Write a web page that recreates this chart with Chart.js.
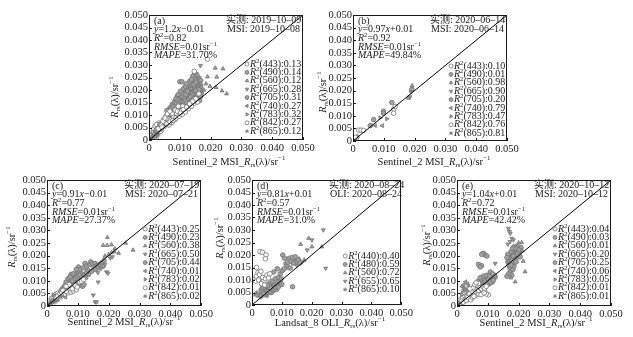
<!DOCTYPE html>
<html>
<head>
<meta charset="utf-8">
<script src="https://cdn.jsdelivr.net/npm/chart.js@4/dist/chart.umd.min.js"></script>
<style>
  html, body { margin: 0; padding: 0; background: #fff; width: 633px; height: 337px; overflow: hidden; }
  canvas { position: absolute; }
</style>
</head>
<body>
<canvas id="pa"></canvas>
<canvas id="pb"></canvas>
<canvas id="pc"></canvas>
<canvas id="pd"></canvas>
<canvas id="pe"></canvas>
<script>
// ---------- axes ----------
const xTickValues = [0, 0.01, 0.02, 0.03, 0.04, 0.05];
const xTickLabels = ['0', '0.010', '0.020', '0.030', '0.040', '0.050'];
const yTickValues = [0, 0.005, 0.01, 0.015, 0.02, 0.025, 0.03, 0.035, 0.04, 0.045, 0.05];
const yTickLabels = ['0', '0.005', '0.010', '0.015', '0.020', '0.025', '0.030', '0.035', '0.040', '0.045', '0.050'];
const oneToOne = [0, 0.05];

// ---------- bands ----------
const bandsMSI = [443, 490, 560, 665, 705, 740, 783, 842, 865];
const bandsOLI = [440, 480, 560, 655, 865];

// ---------- (a) 2019-10-09, Sentinel-2 MSI ----------
const a443 = [[0.004,0.006],[0.005,0.007],[0.006,0.0085],[0.0055,0.0095],[0.007,0.008],[0.0075,0.0105],[0.008,0.009],[0.0085,0.012],[0.009,0.0105],[0.0095,0.0135],[0.0065,0.006],[0.0075,0.007],[0.0085,0.0082],[0.0105,0.0118],[0.011,0.0135],[0.0045,0.0075],[0.0052,0.0088],[0.006,0.0105],[0.0068,0.0115],[0.019,0.0323],[0.0147,0.0275],
  [0.003,0.0045],[0.0042,0.0052],[0.0058,0.0065],[0.0068,0.0072],[0.0078,0.0078],[0.0088,0.0088],[0.0098,0.0095],[0.0108,0.0102],[0.0118,0.0112],[0.0128,0.0125],[0.0138,0.0135],[0.0148,0.0148],[0.0158,0.0152],[0.0092,0.0115],[0.0102,0.0108],[0.0112,0.0122],[0.0122,0.0132],[0.0132,0.0145],[0.0142,0.0155],[0.0152,0.0165],[0.0162,0.0185]];
const a490 = [[0.005,0.008],[0.006,0.0095],[0.007,0.0125],[0.0078,0.0135],[0.0088,0.0145],[0.0095,0.016],[0.0102,0.0152],[0.0108,0.0172],[0.0115,0.0165],[0.012,0.0182],[0.0125,0.0195],[0.0072,0.0095],[0.0082,0.0112],[0.0092,0.0125],[0.0098,0.0142],[0.0105,0.0128],[0.0112,0.015],[0.0118,0.0138],[0.0065,0.0108],[0.0058,0.0118],
  [0.0035,0.0062],[0.0045,0.0068],[0.0055,0.0078],[0.0062,0.0088],[0.0072,0.0102],[0.0082,0.0098],[0.0088,0.0132],[0.0095,0.0118],[0.0105,0.0138],[0.0112,0.0118],[0.0118,0.0158],[0.0122,0.0148],[0.0128,0.0138],[0.0135,0.0172],[0.0138,0.0152],[0.0145,0.0165],[0.0152,0.0198],[0.0158,0.0182],[0.0162,0.0202],[0.0168,0.0175]];
const a560 = [[0.0215,0.0288],[0.024,0.0285],[0.019,0.0253],[0.022,0.0252],[0.0218,0.021],[0.0237,0.0197],[0.0252,0.0185],[0.0185,0.0225],[0.0178,0.02],[0.0198,0.0215],[0.0168,0.0225]];
const a665 = [[0.0167,0.0297],[0.0158,0.0248],[0.0138,0.0205],[0.0125,0.0178],[0.0112,0.0162],[0.0145,0.0195],[0.0152,0.0178],[0.016,0.0212],[0.0172,0.0198],[0.0098,0.0118]];
const a705 = [[0.0115,0.019],[0.012,0.0205],[0.0128,0.0175],[0.013,0.0215],[0.0135,0.019],[0.0138,0.0225],[0.014,0.02],[0.0142,0.0168],[0.0145,0.0235],[0.0148,0.021],[0.015,0.0185],[0.0152,0.0245],[0.0155,0.0222],[0.0158,0.0195],[0.016,0.0172],[0.0162,0.023],[0.0165,0.0205],[0.0168,0.0215],[0.0132,0.0158],[0.0125,0.0162],[0.0108,0.0185],[0.0142,0.0255],[0.0155,0.0262],[0.0148,0.027],[0.01,0.0233],[0.0107,0.0233],[0.0085,0.0158],[0.0092,0.0175],[0.017,0.0188],[0.0165,0.0158],
  [0.0068,0.0128],[0.0075,0.0142],[0.0082,0.0148],[0.0088,0.0165],[0.0095,0.0182],[0.0102,0.0195],[0.0105,0.0168],[0.0112,0.0205],[0.0118,0.0215],[0.0122,0.0225],[0.0128,0.0192],[0.0132,0.0235],[0.0135,0.0205],[0.0138,0.0242],[0.0145,0.0222],[0.0152,0.0232],[0.0158,0.0215],[0.0162,0.0248],[0.0165,0.0225],[0.0168,0.0238]];
const a740 = [[0.0008,0.0012],[0.0016,0.0026],[0.0026,0.0032],[0.0036,0.0042],[0.0044,0.0055],[0.0024,0.0046],[0.0052,0.0068]];
const a783 = [[0.0012,0.0018],[0.0022,0.0028],[0.0028,0.0038],[0.0032,0.0048],[0.0042,0.005],[0.0018,0.0032],[0.0048,0.0062]];
const a842 = [[0.001,0.002],[0.002,0.003],[0.003,0.004],[0.0025,0.005],[0.0035,0.0055],[0.004,0.0045],[0.0015,0.0045],[0.003,0.006],[0.0045,0.0058],[0.002,0.0055],[0.0038,0.0035],
  [0.0025,0.0038],[0.0035,0.0045],[0.005,0.0055],[0.0055,0.0065],[0.004,0.0065],[0.0048,0.0082],[0.0032,0.0068],[0.0025,0.0062],[0.0058,0.0072],[0.0015,0.003]];
const a865 = [[0.0005,0.0008],[0.001,0.0015],[0.0015,0.001],[0.002,0.0022],[0.0008,0.0025],[0.0025,0.0012],[0.0012,0.0035],[0.003,0.002],[0.0018,0.0042],[0.0035,0.003],
  [0.0005,0.002],[0.0022,0.0035],[0.0028,0.0028],[0.0038,0.0048],[0.0042,0.004]];
const r2A = ['0.13', '0.14', '0.12', '0.28', '0.31', '0.27', '0.32', '0.27', '0.12'];

// ---------- (b) 2020-06-14, Sentinel-2 MSI ----------
const b443 = [[0.0018,0.0043],[0.0026,0.0043],[0.0034,0.0042],[0.0008,0.0015]];
const b490 = [[0.0056,0.0061],[0.0067,0.0085],[0.0005,0.001]];
const b560 = [[0.0192,0.0219],[0.018,0.017]];
const b665 = [[0.0185,0.0175],[0.0188,0.0195]];
const b705 = [[0.0099,0.0118],[0.0099,0.011],[0.0126,0.0153],[0.0191,0.0205]];
const b740 = [[0.0072,0.0061],[0.0095,0.0061]];
const b783 = [[0.0088,0.0092],[0.011,0.0088]];
const b842 = [[0.0132,0.0126],[0.0132,0.011],[0.0137,0.0137],[0.0012,0.0012]];
const b865 = [[0.0003,0.0005],[0.001,0.0008],[0.0015,0.002]];
const r2B = ['0.10', '0.01', '0.98', '0.90', '0.20', '0.79', '0.47', '0.76', '0.81'];

// ---------- (c) 2020-07-19, Sentinel-2 MSI ----------
const c443 = [[0.005,0.0055],[0.0055,0.006],[0.006,0.0068],[0.0065,0.0062],[0.007,0.0075],[0.0075,0.0065],[0.008,0.0078],[0.0058,0.0048],[0.0068,0.0052],[0.0078,0.0055],[0.0085,0.006],[0.009,0.0072],[0.0095,0.0065],[0.0072,0.0085],[0.0062,0.0078],
  [0.003,0.0035],[0.0035,0.004],[0.0042,0.0048],[0.0048,0.0052],[0.0052,0.0062],[0.0062,0.0058],[0.0082,0.0068],[0.0092,0.0082],[0.0098,0.0075],[0.0105,0.0095],[0.0112,0.0098],[0.0118,0.0105]];
const c490 = [[0.005,0.0068],[0.0055,0.0075],[0.006,0.0085],[0.0065,0.0092],[0.007,0.0098],[0.0075,0.0105],[0.008,0.0112],[0.0085,0.0095],[0.009,0.0102],[0.0095,0.0088],[0.01,0.0095],[0.0105,0.0082],[0.011,0.009],[0.0115,0.0078],[0.012,0.0085],[0.0088,0.0118],[0.0078,0.0125],[0.0068,0.0108],
  [0.0045,0.006],[0.0058,0.0072],[0.0072,0.0088],[0.0082,0.0102],[0.0092,0.011],[0.0098,0.0118],[0.0105,0.0122],[0.0112,0.0112],[0.0122,0.0125],[0.0128,0.0132],[0.0062,0.0095],[0.0075,0.0115],[0.0085,0.0128],[0.0095,0.0145]];
const c560 = [[0.0196,0.0272],[0.0182,0.0241],[0.0195,0.0241],[0.0209,0.0243],[0.0279,0.0222],[0.022,0.0228],[0.0218,0.0216],[0.021,0.0212],[0.02,0.0205],[0.0188,0.0198],[0.0255,0.025],[0.0232,0.021]];
const c665 = [[0.0193,0.0135],[0.0198,0.013],[0.0166,0.0095],[0.015,0.0043],[0.0156,0.0016],[0.0161,0.0016],[0.0175,0.0148],[0.0188,0.0165],[0.0205,0.019],[0.0212,0.0195],[0.0165,0.0132]];
const c705 = [[0.0095,0.0128],[0.01,0.0138],[0.0102,0.0155],[0.0108,0.0145],[0.0112,0.0128],[0.0118,0.0152],[0.0123,0.0169],[0.0128,0.0158],[0.0132,0.0142],[0.0138,0.0165],[0.0142,0.0175],[0.0148,0.0168],[0.0156,0.0169],[0.0152,0.0155],[0.0158,0.0145],[0.0162,0.016],[0.0168,0.0152],[0.0172,0.0165],[0.0178,0.0172],[0.0182,0.0158],[0.0108,0.0118],[0.0125,0.0112],[0.0135,0.0125],[0.0145,0.0138],[0.0185,0.018]];
const c740 = [[0.0018,0.0025],[0.0028,0.0038],[0.0038,0.0045],[0.0045,0.0035],[0.0055,0.004],[0.0032,0.0032],[0.006,0.0035]];
const c783 = [[0.002,0.0045],[0.0032,0.004],[0.0038,0.0035],[0.0042,0.0038],[0.0048,0.0042],[0.0025,0.0025],[0.0052,0.0045]];
const c842 = [[0.0015,0.003],[0.002,0.0035],[0.0025,0.0042],[0.003,0.0048],[0.0035,0.005],[0.004,0.0045],[0.0045,0.005],[0.0028,0.003]];
const c865 = [[0.0005,0.0008],[0.001,0.0015],[0.0015,0.001],[0.002,0.002],[0.0025,0.0015],[0.003,0.0025],[0.0012,0.0028],[0.0035,0.0022]];
const r2C = ['0.25', '0.23', '0.38', '0.50', '0.44', '0.01', '0.02', '0.01', '0.02'];

// ---------- (d) 2020-08-24, Landsat-8 OLI ----------
const d440 = [[0.0027,0.0213],[0.0035,0.0211],[0.0047,0.02],[0.0045,0.0185],[0.001,0.0105],[0.0015,0.0115],[0.002,0.013],[0.0025,0.0122],[0.003,0.0135],[0.0012,0.0095],[0.0022,0.01],[0.0035,0.011],[0.0015,0.015],[0.004,0.0095],[0.0045,0.0105],[0.005,0.012],[0.0055,0.0108],[0.006,0.0125],[0.0032,0.0085],[0.0042,0.008]];
const d480 = [[0.003,0.006],[0.0035,0.0068],[0.004,0.0055],[0.0045,0.0065],[0.005,0.006],[0.0055,0.007],[0.006,0.0062],[0.0065,0.0075],[0.007,0.0068],[0.0075,0.008],[0.008,0.007],[0.0085,0.0085],[0.009,0.0078],[0.0095,0.009],[0.01,0.0082],[0.0058,0.0085],[0.0068,0.0095],[0.0078,0.0105],[0.0088,0.011],[0.0095,0.0125],[0.0102,0.0138],[0.0065,0.005],[0.0072,0.0058],[0.0082,0.0062],[0.0048,0.0075],[0.0136,0.0073],[0.0085,0.0145],[0.0073,0.0132],[0.0103,0.02],[0.0109,0.0187],[0.0125,0.0187],[0.0114,0.0165],[0.012,0.017],[0.013,0.0175],[0.0135,0.019],[0.014,0.0168],[0.0145,0.0193],[0.015,0.0175],[0.0155,0.018],[0.016,0.0168],[0.0118,0.0152],[0.0128,0.0148],[0.0108,0.0145],
  [0.004,0.0045],[0.0052,0.0052],[0.006,0.0055],[0.007,0.0062],[0.0078,0.0072],[0.0088,0.0072],[0.0092,0.0095],[0.0098,0.0105],[0.0062,0.0068],[0.0052,0.0078]];
const d560 = [[0.0163,0.0243],[0.019,0.0267],[0.0201,0.0233],[0.0234,0.0233],[0.0175,0.018],[0.0158,0.0185],[0.0145,0.0178],[0.0138,0.0165]];
const d655 = [[0.0239,0.03],[0.0201,0.026],[0.0185,0.022],[0.0247,0.0147],[0.0168,0.0172],[0.015,0.0158]];
const d865 = [[0.001,0.004],[0.0015,0.005],[0.002,0.0035],[0.0025,0.0045],[0.003,0.003],[0.0035,0.0042],[0.004,0.0038],[0.0045,0.0048],[0.005,0.0035],[0.0055,0.0045]];
const r2D = ['0.40', '0.59', '0.72', '0.65', '0.10'];

// ---------- (e) 2020-10-12, Sentinel-2 MSI ----------
const e443 = [[0.004,0.003],[0.0045,0.0038],[0.005,0.0045],[0.0055,0.005],[0.006,0.0042],[0.0065,0.0055],[0.007,0.0048],[0.0075,0.006],[0.008,0.0052],[0.0085,0.0065],[0.009,0.0058],[0.0102,0.0044],[0.0095,0.0048],[0.0055,0.0068],[0.006,0.0075],[0.0065,0.0082],[0.007,0.009],[0.0048,0.0058],
  [0.003,0.0022],[0.0035,0.0035],[0.004,0.0048],[0.0045,0.0025],[0.005,0.0035],[0.0055,0.0038],[0.006,0.0058],[0.0065,0.0065],[0.007,0.0062],[0.0075,0.0072],[0.008,0.0068],[0.0085,0.0075],[0.009,0.007],[0.0095,0.0078],[0.0052,0.0072],[0.0058,0.0085],[0.0062,0.0092],[0.0042,0.0068],[0.0078,0.0045],[0.0088,0.0052]];
const e490 = [[0.0075,0.0078],[0.008,0.0088],[0.0085,0.0095],[0.009,0.0082],[0.0095,0.009],[0.01,0.0098],[0.0105,0.0088],[0.011,0.0102],[0.0115,0.0095],[0.012,0.011],[0.0124,0.0115],[0.0078,0.0105],[0.0088,0.011],[0.0098,0.0112],[0.0068,0.0098],[0.0086,0.0209],[0.0092,0.0202],[0.008,0.0205],[0.0097,0.0198],[0.007,0.0165],[0.008,0.016],[0.0075,0.0155],[0.0108,0.0135],
  [0.0072,0.0088],[0.0082,0.0078],[0.0092,0.0095],[0.0098,0.0085],[0.0102,0.0105],[0.0108,0.0095],[0.0112,0.0112],[0.0118,0.0102],[0.0122,0.0122],[0.0085,0.0118],[0.0095,0.0122],[0.0105,0.0118],[0.0115,0.0128],[0.0075,0.0112]];
const e560 = [[0.02,0.0251],[0.021,0.0252],[0.0221,0.0136],[0.0189,0.0096],[0.0215,0.0178],[0.0212,0.022],[0.0175,0.0112]];
const e665 = [[0.0124,0.0169],[0.0167,0.0308],[0.017,0.0295],[0.0173,0.0288],[0.0178,0.0268],[0.0183,0.0262],[0.0172,0.0255],[0.0165,0.0245]];
const e705 = [[0.0165,0.0175],[0.017,0.0185],[0.0172,0.02],[0.0175,0.0195],[0.0178,0.021],[0.018,0.019],[0.0182,0.0205],[0.0185,0.0215],[0.0188,0.02],[0.019,0.0222],[0.0192,0.0208],[0.0195,0.0218],[0.0198,0.0195],[0.02,0.0225],[0.0202,0.021],[0.0168,0.0162],[0.0172,0.015],[0.0178,0.0165],[0.0185,0.0172],[0.0175,0.0138],[0.0182,0.0145],[0.0168,0.0128],[0.0162,0.0118],[0.0178,0.0122],[0.0205,0.0195],[0.0208,0.0232],[0.0195,0.0238],[0.0185,0.0235],
  [0.0168,0.019],[0.0172,0.0178],[0.0175,0.0215],[0.018,0.0228],[0.0183,0.0198],[0.0188,0.0185],[0.0192,0.0228],[0.0195,0.0205],[0.0198,0.0212],[0.0202,0.0222],[0.0178,0.018],[0.0185,0.0158],[0.0165,0.0205],[0.0162,0.0192],[0.0192,0.0175],[0.0175,0.0162]];
const e740 = [[0.0016,0.0077],[0.0022,0.0085],[0.0028,0.0096],[0.0035,0.0088],[0.0038,0.0078],[0.0045,0.007],[0.005,0.0062]];
const e783 = [[0.0015,0.0045],[0.002,0.006],[0.0025,0.007],[0.003,0.0065],[0.0035,0.0058],[0.004,0.0065],[0.0045,0.0055]];
const e842 = [[0.001,0.0025],[0.0018,0.0035],[0.0025,0.004],[0.003,0.0045],[0.0035,0.005],[0.004,0.0042],[0.0022,0.0055],[0.0028,0.006],[0.0015,0.002],[0.002,0.0015],[0.0032,0.0038]];
const e865 = [[0.0005,0.0008],[0.001,0.0015],[0.0015,0.0012],[0.002,0.0025],[0.0025,0.0018],[0.003,0.003],[0.0012,0.003],[0.0035,0.0025]];
const r2E = ['0.04', '0.03', '0.01', '0.20', '0.25', '0.06', '0.05', '0.01', '0.01'];

// ---------- marker look per band ----------
const MARK = '#747474';
const FILL = '#a0a0a0';
const bandMarker = {
  440: { style: 'circle', rot: 0, hollow: true },
  443: { style: 'circle', rot: 0, hollow: true },
  480: { style: 'circle', rot: 0 },
  490: { style: 'circle', rot: 0 },
  560: { style: 'triangle', rot: 0 },
  655: { style: 'triangle', rot: 180 },
  665: { style: 'triangle', rot: 180 },
  705: { style: 'circle', rot: 0 },
  740: { style: 'triangle', rot: -90 },
  783: { style: 'triangle', rot: 90 },
  842: { style: 'circle', rot: 0, hollow: true },
  865: { style: 'star', rot: 0 }
};

const FACE = "'Liberation Serif','Noto Sans CJK SC',serif";
const FS_TICK = 10.5;
const FS = 10;
const INK = '#1a1a1a';

// ---------- panel layout (page pixels) ----------
const panels = [
  { id: 'pa', box: [95, 0, 237, 170], plot: [149, 15, 303, 140], tag: '(a)',
    fit: '*y*=1.2*x*−0.01', r2: '0.82', rmse: '0.01', mape: '31.70%',
    obs: '实测: 2019–10–09', img: 'MSI: 2019–10–08', xName: 'Sentinel_2 MSI_',
    yTitle: [115, 97], xTitle: [229, 162], bands: bandsMSI,
    series: [a443, a490, a560, a665, a705, a740, a783, a842, a865], r2s: r2A, legTop: 49 },
  { id: 'pb', box: [312, 0, 210, 170], plot: [353, 15, 507, 141], tag: '(b)',
    fit: '*y*=0.97*x*+0.01', r2: '0.92', rmse: '0.01', mape: '49.84%',
    obs: '实测: 2020–06–14', img: 'MSI: 2020–06–14', xName: 'Sentinel_2 MSI_',
    yTitle: [323, 92], xTitle: [434, 162], bands: bandsMSI,
    series: [b443, b490, b560, b665, b705, b740, b783, b842, b865], r2s: r2B, legTop: 51 },
  { id: 'pc', box: [0, 170, 215, 167], plot: [47, 180, 202, 306], tag: '(c)',
    fit: '*y*=0.91*x*−0.01', r2: '0.77', rmse: '0.01', mape: '27.37%',
    obs: '实测: 2020–07–19', img: 'MSI: 2020–07–21', xName: 'Sentinel_2 MSI_',
    yTitle: [12, 247], xTitle: [124, 322], bands: bandsMSI,
    series: [c443, c490, c560, c665, c705, c740, c783, c842, c865], r2s: r2C, legTop: 49 },
  { id: 'pd', box: [210, 170, 205, 167], plot: [252, 180, 405, 305], tag: '(d)',
    fit: '*y*=0.81*x*+0.01', r2: '0.57', rmse: '0.01', mape: '31.0%',
    obs: '实测: 2020–08–24', img: 'OLI: 2020–08–24', xName: 'Landsat_8 OLI_',
    yTitle: [220, 238], xTitle: [330, 323], bands: bandsOLI,
    series: [d440, d480, d560, d655, d865], r2s: r2D, legTop: 76 },
  { id: 'pe', box: [415, 170, 218, 167], plot: [457, 180, 611, 306], tag: '(e)',
    fit: '*y*=1.04*x*+0.01', r2: '0.72', rmse: '0.01', mape: '42.42%',
    obs: '实测: 2020–10–12', img: 'MSI: 2020–10–12', xName: 'Sentinel_2 MSI_',
    yTitle: [427, 245], xTitle: [536, 323], bands: bandsMSI,
    series: [e443, e490, e560, e665, e705, e740, e783, e842, e865], r2s: r2E, legTop: 49 }
];

// ---------- rich text: *italic*, ^{sup}, _{sub} ----------
function parseRich(s) {
  const out = []; let buf = '', ital = false, i = 0;
  const flush = () => { if (buf) { out.push({ t: buf, it: ital, m: 0 }); buf = ''; } };
  while (i < s.length) {
    const c = s[i];
    if (c === '*') { flush(); ital = !ital; i++; continue; }
    if ((c === '^' || c === '_') && s[i + 1] === '{') {
      flush();
      const j = s.indexOf('}', i);
      out.push({ t: s.slice(i + 2, j), it: false, m: c === '^' ? 1 : -1 });
      i = j + 1; continue;
    }
    buf += c; i++;
  }
  flush();
  return out;
}
function drawRich(ctx, s, x, y, align, size) {
  const parts = parseRich(s);
  const small = size * 0.66;
  const fontOf = p => (p.it ? 'italic ' : '') + (p.m ? small : size) + 'px ' + FACE;
  let w = 0;
  parts.forEach(p => { ctx.font = fontOf(p); p.w = ctx.measureText(p.t).width; w += p.w; });
  let cx = align === 'right' ? x - w : align === 'center' ? x - w / 2 : x;
  ctx.textAlign = 'left';
  ctx.textBaseline = 'middle';
  parts.forEach(p => {
    ctx.font = fontOf(p);
    const dy = p.m === 1 ? -size * 0.32 : p.m === -1 ? size * 0.28 : 0;
    ctx.fillText(p.t, cx, y + dy);
    cx += p.w;
  });
}

// ---------- frame, inward ticks, titles, notes, legend ----------
const decoPlugin = {
  id: 'deco',
  afterDraw(chart, args, opts) {
    const p = opts.panel;
    const ctx = chart.ctx;
    const ox = p.box[0], oy = p.box[1];
    const a = chart.chartArea;
    const xs = chart.scales.x, ys = chart.scales.y;
    ctx.save();
    ctx.strokeStyle = INK;
    ctx.lineWidth = 1;
    ctx.strokeRect(Math.round(a.left) + 0.5, Math.round(a.top) + 0.5,
                   Math.round(a.right - a.left) - 1, Math.round(a.bottom - a.top) - 1);
    ctx.beginPath();
    yTickValues.forEach(v => {
      const py = Math.round(ys.getPixelForValue(v)) + 0.5;
      ctx.moveTo(a.left, py); ctx.lineTo(a.left + 3, py);
    });
    xTickValues.forEach(v => {
      const px = Math.round(xs.getPixelForValue(v)) + 0.5;
      ctx.moveTo(px, a.bottom); ctx.lineTo(px, a.bottom - 3);
    });
    ctx.stroke();

    ctx.fillStyle = INK;
    // axis titles
    drawRich(ctx, p.xName + '*R*_{rs}(λ)/sr^{−1}', p.xTitle[0] - ox, p.xTitle[1] - oy, 'center', FS_TICK);
    ctx.save();
    ctx.translate(p.yTitle[0] - ox, p.yTitle[1] - oy);
    ctx.rotate(-Math.PI / 2);
    drawRich(ctx, '*R*_{rs}(λ)/sr^{−1}', 0, 0, 'center', FS_TICK);
    ctx.restore();

    // fit statistics
    const L = a.left, T = a.top, R = a.right;
    const lines = [p.tag, p.fit, '*R*^{2}=' + p.r2, '*RMSE*=' + p.rmse + 'sr^{−1}', '*MAPE*=' + p.mape];
    lines.forEach((s, i) => drawRich(ctx, s, L + 5, T + 6 + i * 8.7, 'left', FS));
    drawRich(ctx, p.obs, L + 77, T + 5.5, 'left', FS);
    drawRich(ctx, p.img, L + 78, T + 14.8, 'left', FS);

    // band legend
    p.bands.forEach((b, i) => {
      const yy = T + p.legTop + i * 8.4;
      const mk = bandMarker[b];
      ctx.save();
      ctx.strokeStyle = MARK;
      ctx.fillStyle = mk.hollow ? '#ffffff' : FILL;
      ctx.lineWidth = 0.8;
      Chart.helpers.drawPoint(ctx, { pointStyle: mk.style, rotation: mk.rot, radius: 2, borderWidth: 0.8 }, R - 56, yy);
      ctx.restore();
      drawRich(ctx, '*R*^{2}(' + b + '):' + p.r2s[i], R - 53, yy, 'left', FS);
    });
    ctx.restore();
  }
};

// ---------- build the five charts ----------
panels.forEach(p => {
  const cv = document.getElementById(p.id);
  const [bx, by, bw, bh] = p.box;
  const [pl, pt, pr, pb] = p.plot;
  cv.width = bw; cv.height = bh;
  cv.style.left = bx + 'px'; cv.style.top = by + 'px';
  cv.style.width = bw + 'px'; cv.style.height = bh + 'px';

  const datasets = [{
    type: 'line',
    data: oneToOne.map(v => ({ x: v, y: v })),
    borderColor: '#000', borderWidth: 1, pointRadius: 0, fill: false, clip: 0
  }];
  p.bands.forEach((b, i) => {
    const mk = bandMarker[b];
    datasets.push({
      type: 'scatter',
      label: String(b),
      data: p.series[i].map(([x, y]) => ({ x, y })),
      pointStyle: mk.style,
      rotation: mk.rot,
      pointRadius: 2.3,
      pointBorderWidth: 0.8,
      pointBorderColor: MARK,
      pointBackgroundColor: mk.hollow ? '#ffffff' : FILL
    });
  });

  const tickFont = { family: FACE, size: FS_TICK };
  new Chart(cv, {
    type: 'scatter',
    data: { datasets },
    options: {
      responsive: false,
      devicePixelRatio: 1,
      animation: false,
      events: [],
      layout: { padding: { left: 0, top: pt - by, right: bx + bw - pr, bottom: 0 } },
      plugins: { legend: { display: false }, tooltip: { enabled: false }, deco: { panel: p } },
      scales: {
        x: {
          type: 'linear', min: 0, max: 0.05,
          afterBuildTicks: s => { s.ticks = xTickValues.map(v => ({ value: v })); },
          afterFit: s => { s.height = by + bh - pb; },
          ticks: { callback: (v, i) => xTickLabels[i], font: tickFont, color: INK, padding: 2, maxRotation: 0, autoSkip: false },
          grid: { display: false, drawTicks: false },
          border: { display: false }
        },
        y: {
          type: 'linear', min: 0, max: 0.05,
          afterBuildTicks: s => { s.ticks = yTickValues.map(v => ({ value: v })); },
          afterFit: s => { s.width = pl - bx; },
          ticks: { callback: (v, i) => yTickLabels[i], font: tickFont, color: INK, padding: 1, autoSkip: false },
          grid: { display: false, drawTicks: false },
          border: { display: false }
        }
      }
    },
    plugins: [decoPlugin]
  });
});
</script>
</body>
</html>
